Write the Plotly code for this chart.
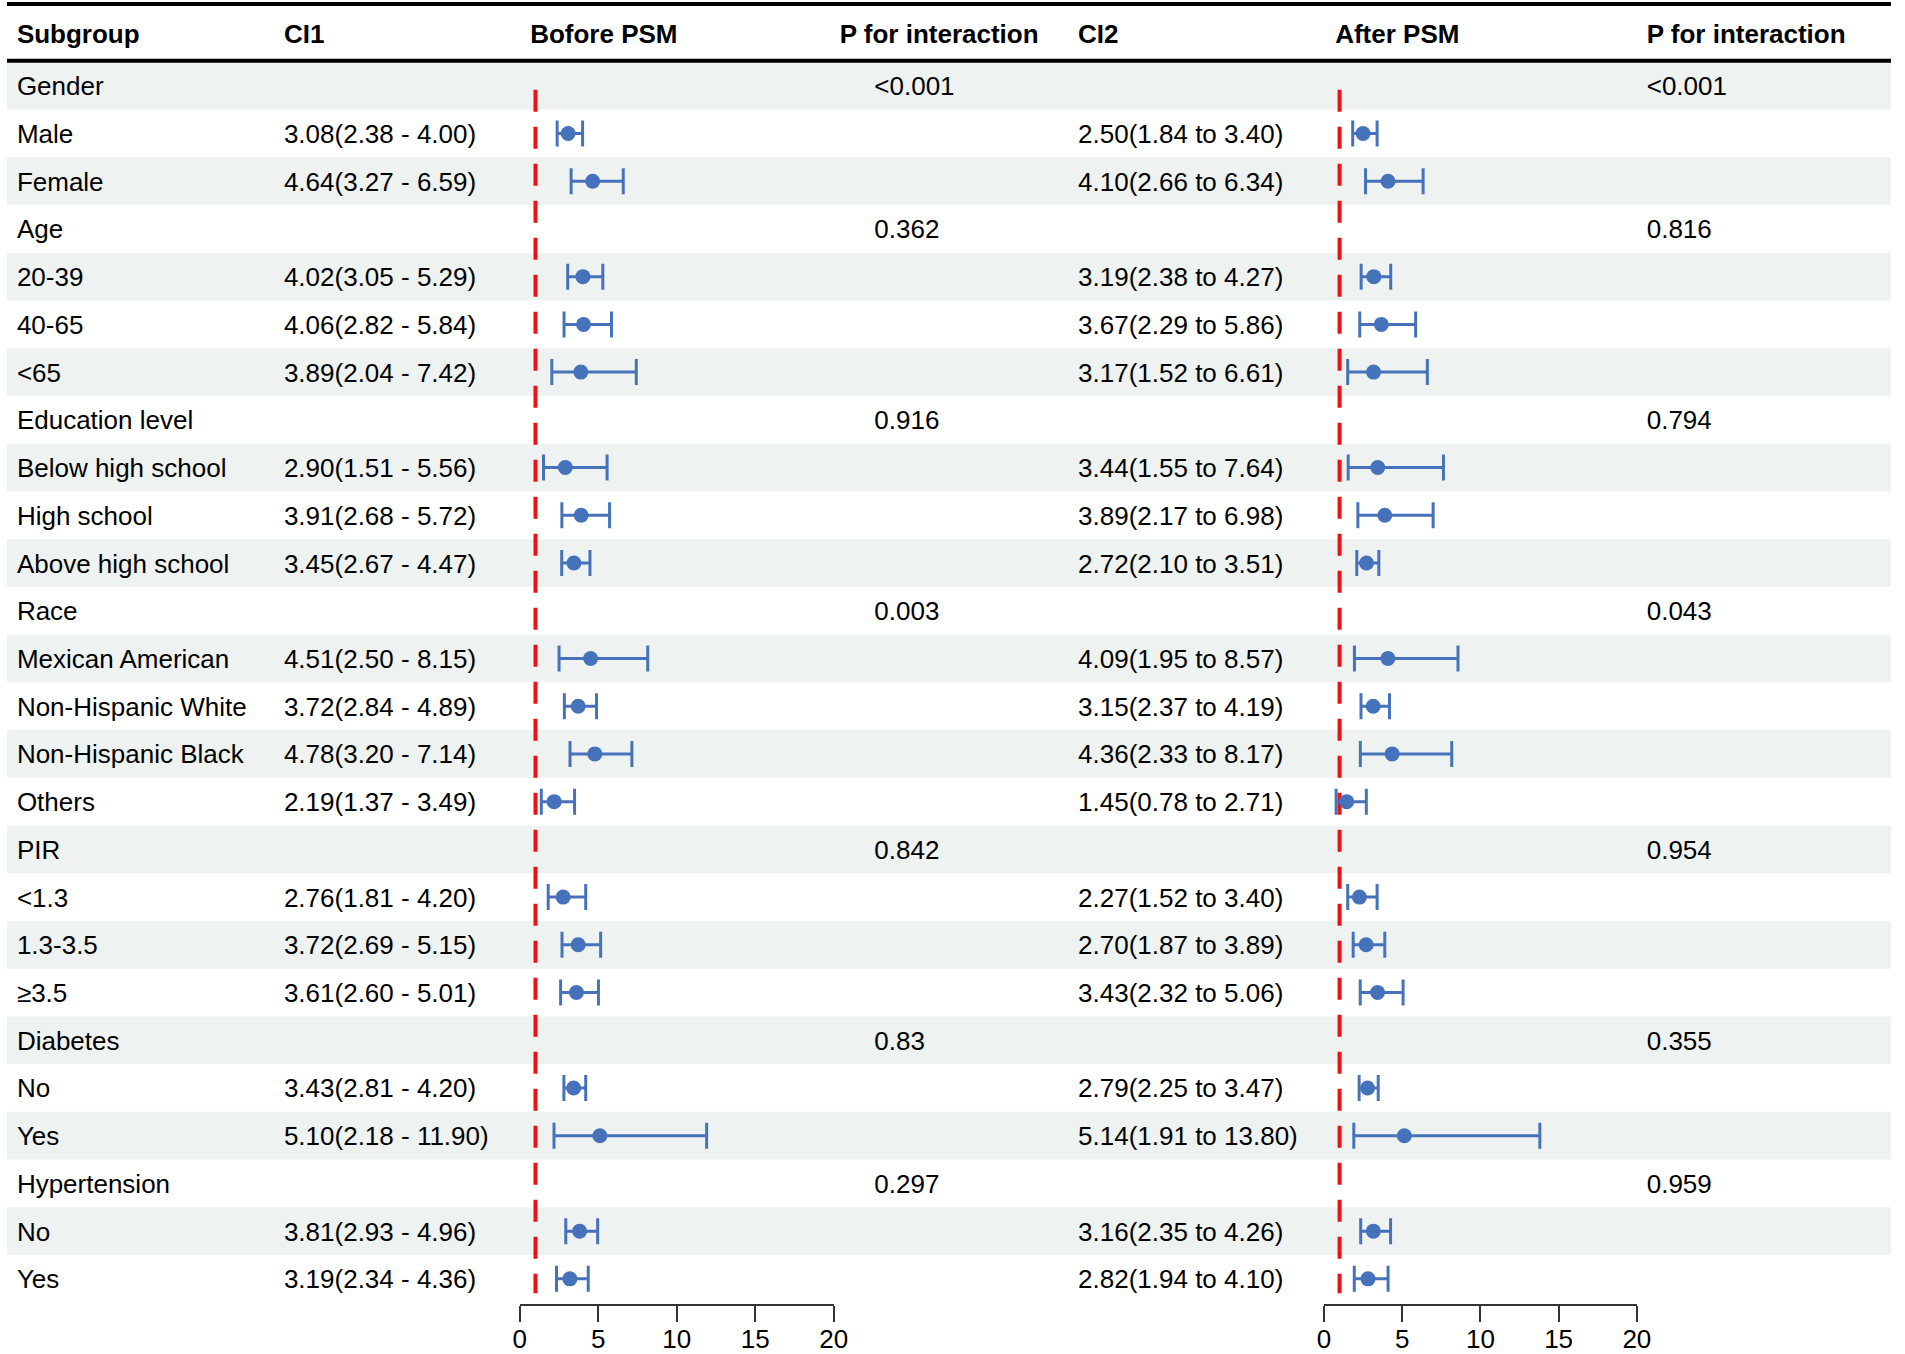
import plotly.graph_objects as go

# ---------------- data ----------------
subgroups = ["Gender", "Male", "Female", "Age", "20-39", "40-65", "<65",
             "Education level", "Below high school", "High school", "Above high school",
             "Race", "Mexican American", "Non-Hispanic White", "Non-Hispanic Black", "Others",
             "PIR", "<1.3", "1.3-3.5", "≥3.5",
             "Diabetes", "No", "Yes", "Hypertension", "No", "Yes"]

# Before PSM estimates (None for header rows)
est1 = [None, 3.08, 4.64, None, 4.02, 4.06, 3.89, None, 2.90, 3.91, 3.45,
        None, 4.51, 3.72, 4.78, 2.19, None, 2.76, 3.72, 3.61,
        None, 3.43, 5.10, None, 3.81, 3.19]
lo1 = [None, 2.38, 3.27, None, 3.05, 2.82, 2.04, None, 1.51, 2.68, 2.67,
       None, 2.50, 2.84, 3.20, 1.37, None, 1.81, 2.69, 2.60,
       None, 2.81, 2.18, None, 2.93, 2.34]
hi1 = [None, 4.00, 6.59, None, 5.29, 5.84, 7.42, None, 5.56, 5.72, 4.47,
       None, 8.15, 4.89, 7.14, 3.49, None, 4.20, 5.15, 5.01,
       None, 4.20, 11.90, None, 4.96, 4.36]

# After PSM estimates
est2 = [None, 2.50, 4.10, None, 3.19, 3.67, 3.17, None, 3.44, 3.89, 2.72,
        None, 4.09, 3.15, 4.36, 1.45, None, 2.27, 2.70, 3.43,
        None, 2.79, 5.14, None, 3.16, 2.82]
lo2 = [None, 1.84, 2.66, None, 2.38, 2.29, 1.52, None, 1.55, 2.17, 2.10,
       None, 1.95, 2.37, 2.33, 0.78, None, 1.52, 1.87, 2.32,
       None, 2.25, 1.91, None, 2.35, 1.94]
hi2 = [None, 3.40, 6.34, None, 4.27, 5.86, 6.61, None, 7.64, 6.98, 3.51,
       None, 8.57, 4.19, 8.17, 2.71, None, 3.40, 3.89, 5.06,
       None, 3.47, 13.80, None, 4.26, 4.10]

p1 = ["<0.001", "", "", "0.362", "", "", "", "0.916", "", "", "",
      "0.003", "", "", "", "", "0.842", "", "", "",
      "0.83", "", "", "0.297", "", ""]
p2 = ["<0.001", "", "", "0.816", "", "", "", "0.794", "", "", "",
      "0.043", "", "", "", "", "0.954", "", "", "",
      "0.355", "", "", "0.959", "", ""]

headers = ["Subgroup", "CI1", "Bofore PSM", "P for interaction",
           "CI2", "After PSM", "P for interaction"]
ticks = [0, 5, 10, 15, 20]
ref_value = 1


def fmt1(e, l, h):
    return "" if e is None else f"{e:.2f}({l:.2f} - {h:.2f})"


def fmt2(e, l, h):
    return "" if e is None else f"{e:.2f}({l:.2f} to {h:.2f})"


ci1_text = [fmt1(e, l, h) for e, l, h in zip(est1, lo1, hi1)]
ci2_text = [fmt2(e, l, h) for e, l, h in zip(est2, lo2, hi2)]

# ---------------- layout constants ----------------
W, H = 1905, 1354
ROW0, ROWH = 86.1, 47.9          # pixel centre of first row, row height
n = len(subgroups)
rows = list(range(n))
TXT_DY = 3 / ROWH                 # small downward nudge for text baseline


def r_of(px):
    return (px - ROW0) / ROWH


FONT = "Liberation Sans, Arial, sans-serif"
FS = 26
BLUE = "#4672bb"
RED = "#ee1111"
SHADE = "#eef2f1"

col_x = {"sub": 10, "ci1": 280, "f1": 529, "p1": 842, "p1v": 877,
         "ci2": 1083, "f2": 1343, "p2": 1658}

fig = go.Figure()


def text_col(x, texts):
    fig.add_trace(go.Scatter(
        x=[x] * len(texts), y=[r + TXT_DY for r in rows], text=texts, mode="text",
        textposition="middle right", cliponaxis=False, hoverinfo="skip",
        textfont=dict(family=FONT, size=FS, color="black"),
        xaxis="x", yaxis="y", showlegend=False))


text_col(col_x["sub"], subgroups)
text_col(col_x["ci1"], ci1_text)
text_col(col_x["p1v"], p1)
text_col(col_x["ci2"], ci2_text)
text_col(col_x["p2"], p2)

# headers
hdr_x = [col_x["sub"], col_x["ci1"], col_x["f1"], col_x["p1"],
         col_x["ci2"], col_x["f2"], col_x["p2"]]
fig.add_trace(go.Scatter(
    x=hdr_x, y=[r_of(34) + TXT_DY] * len(headers),
    text=[f"<b>{h}</b>" for h in headers], mode="text",
    textposition="middle right", cliponaxis=False, hoverinfo="skip",
    textfont=dict(family=FONT, size=FS, color="black"),
    xaxis="x", yaxis="y", showlegend=False))

# forest plots
for est, lo, hi, xa in [(est1, lo1, hi1, "x2"), (est2, lo2, hi2, "x3")]:
    ys = [i for i in rows if est[i] is not None]
    xs = [est[i] for i in ys]
    plus = [hi[i] - est[i] for i in ys]
    minus = [est[i] - lo[i] for i in ys]
    fig.add_trace(go.Scatter(
        x=[ref_value, ref_value], y=[r_of(90), r_of(1298)], mode="lines",
        line=dict(color=RED, width=4, dash="22px,15px"),
        xaxis=xa, yaxis="y", showlegend=False, hoverinfo="skip", cliponaxis=False))
    fig.add_trace(go.Scatter(
        x=xs, y=ys, mode="markers",
        marker=dict(color=BLUE, size=15, symbol="circle"),
        error_x=dict(type="data", symmetric=False, array=plus, arrayminus=minus,
                     color=BLUE, thickness=3, width=13),
        xaxis=xa, yaxis="y", showlegend=False, cliponaxis=False))

shapes = []
for i in rows:
    if i % 2 == 0:
        shapes.append(dict(type="rect", xref="x", yref="y", x0=0, x1=W,
                           y0=i - 0.5, y1=i + 0.5, fillcolor=SHADE,
                           line=dict(width=0), layer="below"))
for py in (4, 61):
    shapes.append(dict(type="line", xref="x", yref="y", x0=0, x1=W,
                       y0=r_of(py), y1=r_of(py),
                       line=dict(color="black", width=4)))

axis_pos = 1 - 1310 / H
common_ax = dict(range=[0, 20], tickvals=ticks, ticks="outside", ticklen=16,
                 tickwidth=1.5, tickcolor="#333", showline=True, linecolor="#333",
                 linewidth=2, showgrid=False, zeroline=False, anchor="free",
                 position=axis_pos, ticklabelstandoff=-5,
                 tickfont=dict(family=FONT, size=FS, color="black"))

fig.update_layout(
    width=W, height=H, margin=dict(l=0, r=0, t=0, b=0),
    paper_bgcolor="white", plot_bgcolor="rgba(0,0,0,0)",
    xaxis=dict(domain=[0, 1], range=[0, W], visible=False, fixedrange=True),
    yaxis=dict(domain=[0, 1], range=[r_of(H), r_of(0)], visible=False, fixedrange=True),
    xaxis2=dict(domain=[518.5 / W, 836 / W], **common_ax),
    xaxis3=dict(domain=[1331.6 / W, 1648 / W], **common_ax),
    shapes=shapes,
    showlegend=False,
)

fig.write_html("out.html",
               config={"displayModeBar": False},
               post_script="document.body.style.margin='0';"
                           "document.body.style.overflow='hidden';")
